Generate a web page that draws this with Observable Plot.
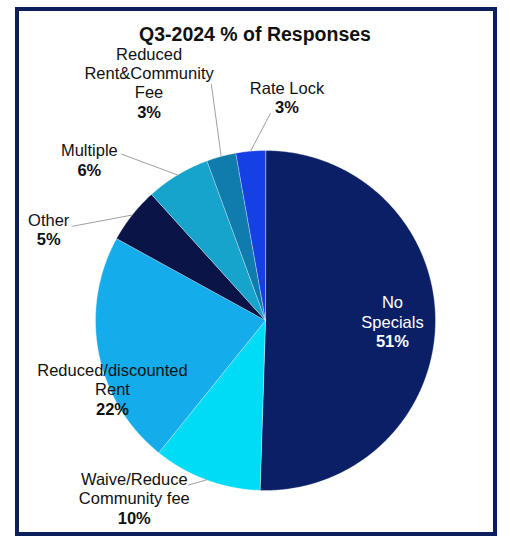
<!DOCTYPE html>
<html>
<head>
<meta charset="utf-8">
<script src="https://cdn.jsdelivr.net/npm/d3@7"></script>
<script src="https://cdn.jsdelivr.net/npm/@observablehq/plot@0.6"></script>
<style>
  body { margin: 0; background: #fff; font-family: Arial, "Liberation Sans", sans-serif; }
  #wrap { position: relative; width: 510px; height: 540px; }
  #frame { position: absolute; left: 15px; top: 7px; width: 482px; height: 529px;
           box-sizing: border-box; border: 4px solid #0c1f5c; }
  #title { position: absolute; left: 0; top: 25px; width: 510px; text-align: center;
           font-weight: bold; font-size: 19.5px; line-height: 19px; color: #111; }
  #chart { position: absolute; left: 0; top: 0; }
</style>
</head>
<body>
<div id="wrap">
  <div id="frame"></div>
  <div id="chart"></div>
  <div id="title">Q3-2024 % of Responses</div>
</div>
<script>
// data, clockwise from 12 o'clock
const categories = ["No Specials", "Waive/Reduce Community fee", "Reduced/discounted Rent",
                    "Other", "Multiple", "Reduced Rent&Community Fee", "Rate Lock"];
const shares = [50.5, 10.3, 22.2, 5.3, 6.1, 2.8, 2.8];
const labelText = ["No\nSpecials", "Waive/Reduce\nCommunity fee", "Reduced/discounted\nRent",
                   "Other", "Multiple", "Reduced\nRent&Community\nFee", "Rate Lock"];

// look
const colors = ["#0b1f66", "#00dcf5", "#14acea", "#0a1446", "#16a3cc", "#0f7cad", "#1440e4"];
const textColors = ["#fff", "#111", "#111", "#111", "#111", "#111", "#111"];
// label placement, relative to each slice's middle: [angle shift (deg), radius]
const labelAt = [[8.5, 0.757], [13.2, 1.397], [-19, 1.041], [-18, 1.36], [-18.4, 1.362], [-14.1, 1.403], [10.8, 1.259]];
// leader line end, same convention (null = no leader)
const leaderEnd = [null, [4.8, 1.07], null, [-12.3, 1.263], [-9.7, 1.293], [2.2, 1.424], [6.4, 1.218]];

const R = 170; // px per pie radius
const toRad = Math.PI / 180;
const polar = (a, r) => ({x: r * Math.sin(a), y: r * Math.cos(a)});

const arcs = d3.pie().sort(null).startAngle(0).endAngle(2 * Math.PI)(shares);

const slicePts = arcs.flatMap((a, i) => {
  const n = Math.max(4, Math.ceil((a.endAngle - a.startAngle) / (0.5 * toRad)));
  const pts = [{name: categories[i], x: 0, y: 0}];
  for (let k = 0; k <= n; k++) {
    const t = a.startAngle + (a.endAngle - a.startAngle) * k / n;
    pts.push({name: categories[i], ...polar(t, 1)});
  }
  return pts;
});

const labels = arcs.map((a, i) => {
  const mid = (a.startAngle + a.endAngle) / 2;
  const p = polar(mid + labelAt[i][0] * toRad, labelAt[i][1]);
  return {name: categories[i], text: labelText[i], pct: Math.round(shares[i]) + "%", color: textColors[i], ...p};
});

const leaders = arcs.flatMap((a, i) => {
  if (!leaderEnd[i]) return [];
  const mid = (a.startAngle + a.endAngle) / 2;
  return [
    {name: categories[i], ...polar(mid, 1.0)},
    {name: categories[i], ...polar(mid + leaderEnd[i][0] * toRad, leaderEnd[i][1])}
  ];
});

const chart = Plot.plot({
  width: 510,
  height: 540,
  margin: 0,
  x: {domain: [-265 / R, 245 / R], axis: null},
  y: {domain: [-220 / R, 320 / R], axis: null},
  color: {domain: categories, range: colors},
  style: {fontFamily: "Arial, 'Liberation Sans', sans-serif", background: "transparent"},
  marks: [
    Plot.line(slicePts, {x: "x", y: "y", z: "name", fill: "name", curve: "linear-closed",
      stroke: "#ffffff", strokeOpacity: 0.35, strokeWidth: 1}),
    Plot.line(leaders, {x: "x", y: "y", z: "name", stroke: "#a0a0a0", strokeWidth: 1}),
    Plot.text(labels, {x: "x", y: "y", text: "text", fill: "color", fontSize: 16.5,
      lineHeight: 1.17, lineAnchor: "bottom", dy: -14}),
    Plot.text(labels, {x: "x", y: "y", text: "pct", fill: "color", fontSize: 16.5,
      fontWeight: "bold", lineAnchor: "middle"})
  ]
});

d3.select("#chart").append(() => chart);
</script>
</body>
</html>
